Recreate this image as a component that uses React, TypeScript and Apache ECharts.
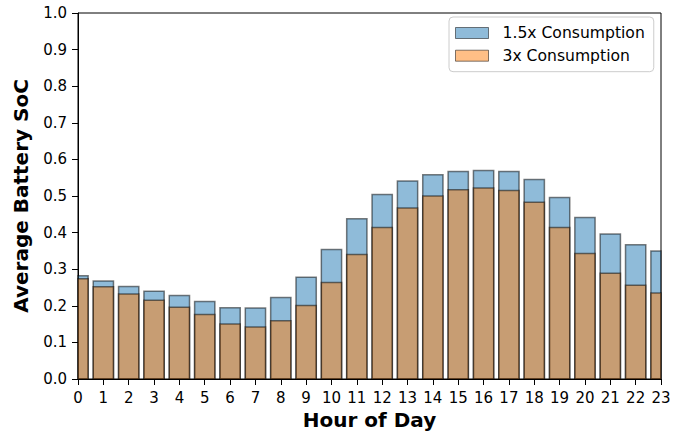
import React, { useEffect, useRef } from "react";
import * as echarts from "echarts";

const hours = [0, 1, 2, 3, 4, 5, 6, 7, 8, 9, 10, 11, 12, 13, 14, 15, 16, 17, 18, 19, 20, 21, 22, 23];
const soc15x = [0.282, 0.268, 0.253, 0.240, 0.228, 0.212, 0.195, 0.194, 0.223, 0.278, 0.354, 0.438, 0.504, 0.541, 0.558, 0.567, 0.570, 0.567, 0.545, 0.496, 0.441, 0.396, 0.367, 0.350];
const soc3x = [0.274, 0.252, 0.232, 0.215, 0.196, 0.176, 0.150, 0.142, 0.159, 0.201, 0.264, 0.340, 0.414, 0.467, 0.500, 0.517, 0.522, 0.515, 0.483, 0.414, 0.343, 0.289, 0.256, 0.235];
const seriesNames = ["1.5x Consumption", "3x Consumption"];
const yTicks = [0, 0.1, 0.2, 0.3, 0.4, 0.5, 0.6, 0.7, 0.8, 0.9, 1.0];

const FONT = "DejaVu Sans";

function makeRender(fill: string) {
  return (params: any, api: any) => {
    const x = api.value(0);
    const y = api.value(1);
    const p0 = api.coord([x - 0.4, y]);
    const p1 = api.coord([x + 0.4, 0]);
    const cs = params.coordSys;
    const rect = echarts.graphic.clipRectByRect(
      { x: p0[0], y: p0[1], width: p1[0] - p0[0], height: p1[1] - p0[1] },
      { x: cs.x, y: cs.y, width: cs.width, height: cs.height }
    );
    if (!rect) return null;
    return {
      type: "rect",
      shape: rect,
      style: { fill, stroke: "rgba(0,0,0,0.5)", lineWidth: 1.5 },
    };
  };
}

export default function App() {
  const ref = useRef<HTMLDivElement>(null);
  useEffect(() => {
    if (!ref.current) return;
    const chart = echarts.init(ref.current, null, { renderer: "svg" });
    chart.setOption({
      animation: false,
      textStyle: { fontFamily: FONT },
      grid: {
        left: 78,
        right: 25,
        top: 13,
        bottom: 54,
        containLabel: false,
        outerBoundsMode: "none",
        show: true,
        borderColor: "#000",
        borderWidth: 1,
        backgroundColor: "transparent",
      },
      legend: {
        orient: "vertical",
        left: 449,
        top: 17,
        backgroundColor: "rgba(255,255,255,0.8)",
        borderColor: "#cccccc",
        borderWidth: 1,
        borderRadius: 4,
        padding: [7, 9, 7, 6],
        itemWidth: 33,
        itemHeight: 11,
        itemGap: 4.7,
        icon: "rect",
        textStyle: { fontFamily: FONT, fontSize: 15.6, color: "#000", lineHeight: 18, padding: [0, 0, 0, 9] },
        data: [
          { name: seriesNames[0], itemStyle: { color: "#8fbbd9", borderColor: "rgba(0,0,0,0.5)", borderWidth: 1 } },
          { name: seriesNames[1], itemStyle: { color: "#ffbf86", borderColor: "rgba(0,0,0,0.5)", borderWidth: 1 } },
        ],
      },
      xAxis: {
        type: "value",
        min: 0,
        max: 23,
        interval: 1,
        name: "Hour of Day",
        nameLocation: "middle",
        nameGap: 31,
        nameTextStyle: { fontFamily: FONT, fontSize: 20, fontWeight: "bold", color: "#000" },
        axisLine: { show: true, onZero: false, lineStyle: { color: "#000", width: 1 } },
        axisTick: { show: true, length: 6, lineStyle: { color: "#000", width: 1 } },
        axisLabel: { fontFamily: FONT, fontSize: 15, color: "#000", margin: 11 },
        splitLine: { show: false },
      },
      yAxis: {
        type: "value",
        min: 0,
        max: 1,
        interval: 0.1,
        name: "Average Battery SoC",
        nameLocation: "middle",
        nameGap: 47,
        nameTextStyle: { fontFamily: FONT, fontSize: 20, fontWeight: "bold", color: "#000" },
        axisLine: { show: true, lineStyle: { color: "#000", width: 1 } },
        axisTick: { show: true, length: 6, lineStyle: { color: "#000", width: 1 } },
        axisLabel: {
          fontFamily: FONT,
          fontSize: 15,
          color: "#000",
          margin: 11,
          formatter: (v: number) => {
            const t = yTicks.find((k) => Math.abs(k - v) < 1e-6);
            return (t !== undefined ? t : v).toFixed(1);
          },
        },
        splitLine: { show: false },
      },
      series: [
        {
          name: seriesNames[0],
          type: "custom",
          itemStyle: { color: "#8fbbd9" },
          encode: { x: 0, y: 1 },
          data: hours.map((h, i) => [h, soc15x[i]]),
          renderItem: makeRender("rgba(31,119,180,0.5)"),
          z: 2,
        },
        {
          name: seriesNames[1],
          type: "custom",
          itemStyle: { color: "#ffbf86" },
          encode: { x: 0, y: 1 },
          data: hours.map((h, i) => [h, soc3x[i]]),
          renderItem: makeRender("rgba(255,127,14,0.5)"),
          z: 3,
        },
      ],
    });
    return () => chart.dispose();
  }, []);
  return <div ref={ref} style={{ position: "absolute", left: 0, top: 0, width: 686, height: 433 }} />;
}
